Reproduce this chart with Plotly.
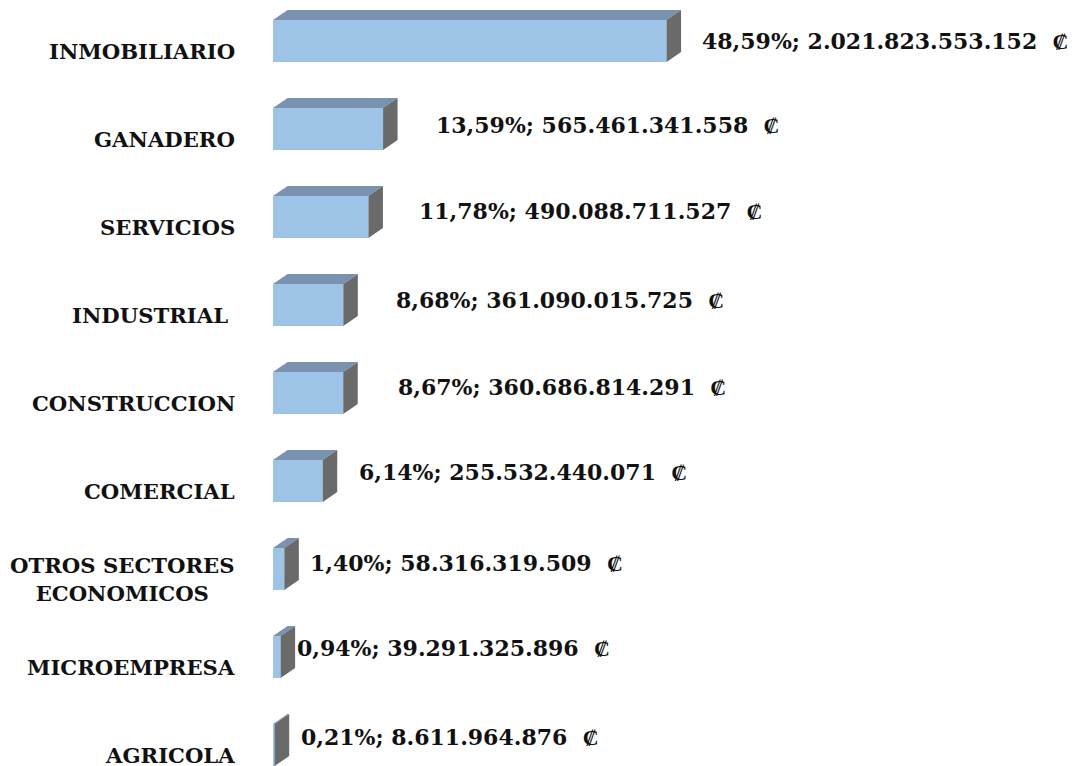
import plotly.graph_objects as go

# ---- data ----
categories = ["INMOBILIARIO", "GANADERO", "SERVICIOS", "INDUSTRIAL\u00a0", "CONSTRUCCION",
              "COMERCIAL", "OTROS SECTORES<br>ECONOMICOS", "MICROEMPRESA", "AGRICOLA"]
percentages = [48.59, 13.59, 11.78, 8.68, 8.67, 6.14, 1.40, 0.94, 0.21]
amounts = [2021823553152, 565461341558, 490088711527, 361090015725, 360686814291,
           255532440071, 58316319509, 39291325896, 8611964876]

# ---- layout / style constants ----
PAGE_OFFSET = 8        # default body margin of the page
W, H = 1076 - PAGE_OFFSET, 766 - PAGE_OFFSET
LEFT = 273 - PAGE_OFFSET          # pixel of x = 0
PX_PER_PCT = 8.1
PITCH = 88
FIRST_CENTER = 41 - PAGE_OFFSET
BAR_H = 42
DEPTH_DX, DEPTH_DY = 14.5, 10
FRONT, TOP, SIDE = "#9DC3E6", "#7892AF", "#6A6A6A"
CAT_FONT = dict(family="DejaVu Serif", size=21.2, color="#111111")
VAL_FONT = dict(family="DejaVu Serif", size=22, color="#111111")
label_gap = [33, 51, 49, 51, 53, 34, 24, 14, 24]        # px between bar and value label
label_lift = [0, 4.5, 6, 5, 6.5, 9.5, 6, 9, 8]          # px value label raised
cat_drop = 10                                          # px category label lowered
CAT_RIGHT = 237 - PAGE_OFFSET


def fmt_pct(p):
    return f"{p:.2f}".replace(".", ",") + "%"


def fmt_amt(a):
    return f"{a:,}".replace(",", ".")


value_labels = [f"<b>{fmt_pct(p)}; {fmt_amt(a)}  \u20a1</b>" for p, a in zip(percentages, amounts)]

idx = list(range(len(categories)))
bw = BAR_H / PITCH
ddx = DEPTH_DX / PX_PER_PCT
ddy = DEPTH_DY / PITCH

fig = go.Figure()
fig.add_trace(go.Bar(
    x=percentages, y=idx, orientation="h", width=bw,
    marker=dict(color=FRONT, line=dict(width=0)),
    hoverinfo="skip", showlegend=False,
))

shapes = []
for i, p in zip(idx, percentages):
    yt = i - bw / 2
    yb = i + bw / 2
    top = f"M 0,{yt} L {ddx},{yt - ddy} L {p + ddx},{yt - ddy} L {p},{yt} Z"
    side = f"M {p},{yt} L {p + ddx},{yt - ddy} L {p + ddx},{yb - ddy} L {p},{yb} Z"
    shapes.append(dict(type="path", path=top, xref="x", yref="y",
                       fillcolor=TOP, line=dict(width=0)))
    shapes.append(dict(type="path", path=side, xref="x", yref="y",
                       fillcolor=SIDE, line=dict(width=0)))

annotations = []
for i, c in zip(idx, categories):
    annotations.append(dict(
        x=0, y=i, xref="x", yref="y", text=f"<b>{c}</b>", showarrow=False,
        xanchor="right", yanchor="middle", align="center",
        xshift=-(LEFT - CAT_RIGHT), yshift=-cat_drop, font=CAT_FONT,
    ))
for i, p, t, g, l in zip(idx, percentages, value_labels, label_gap, label_lift):
    annotations.append(dict(
        x=p, y=i, xref="x", yref="y", text=t, showarrow=False,
        xanchor="left", yanchor="middle", xshift=g, yshift=l, font=VAL_FONT,
    ))

fig.update_layout(
    width=W, height=H,
    margin=dict(l=LEFT, r=0, t=0, b=0),
    paper_bgcolor="white", plot_bgcolor="white",
    xaxis=dict(range=[0, (W - LEFT) / PX_PER_PCT], visible=False, fixedrange=True),
    yaxis=dict(range=[(H - FIRST_CENTER) / PITCH, -FIRST_CENTER / PITCH],
               visible=False, fixedrange=True),
    shapes=shapes, annotations=annotations,
    showlegend=False,
)

fig.write_html("out.html", config={"displayModeBar": False})
